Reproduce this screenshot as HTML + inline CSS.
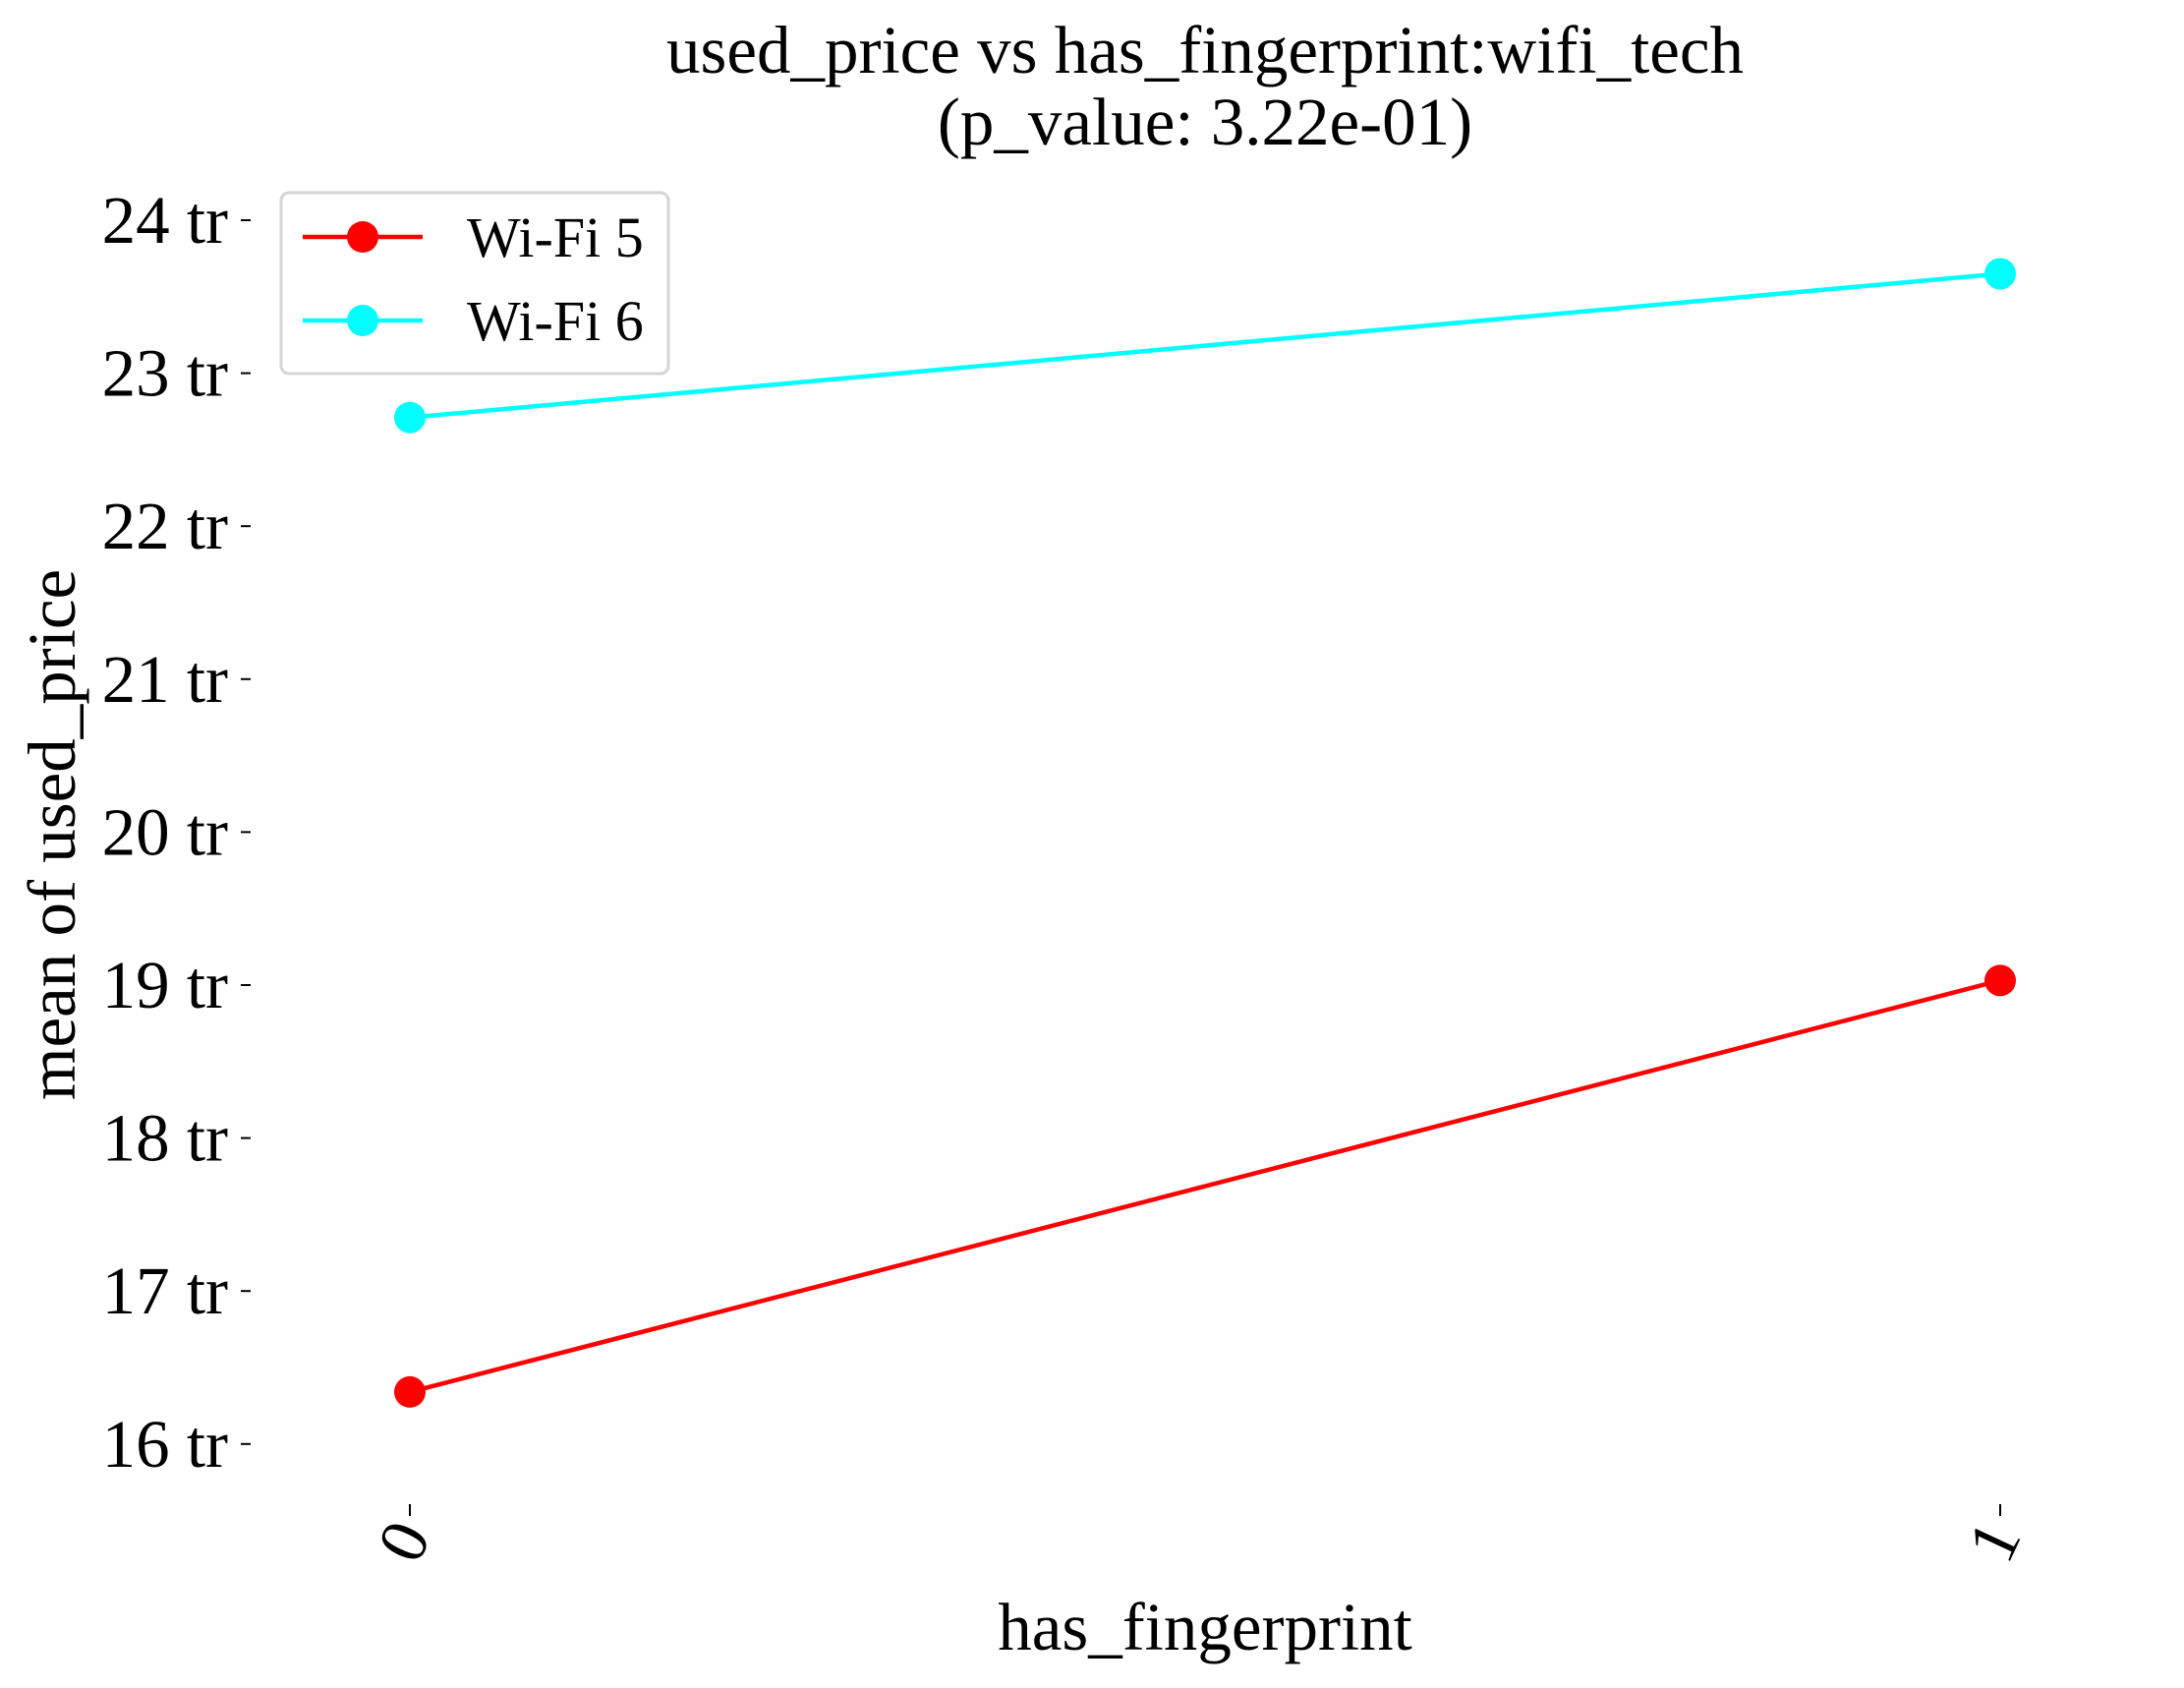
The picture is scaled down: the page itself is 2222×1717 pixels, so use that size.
<!DOCTYPE html>
<html><head><meta charset="utf-8"><style>
html,body{margin:0;padding:0;background:#fff;}
svg{display:block;font-family:"Liberation Serif",serif;}
</style></head><body>
<svg id="chart" width="2222" height="1717" viewBox="0 0 2222 1717">
<rect width="2222" height="1717" fill="#fff"/>
<text x="1226" y="74" font-size="69" text-anchor="middle">used_price vs has_fingerprint:wifi_tech</text>
<text x="1226" y="147" font-size="69" text-anchor="middle">(p_value: 3.22e-01)</text>
<text transform="translate(76,849) rotate(-90)" font-size="69" text-anchor="middle">mean of used_price</text>
<text x="1226" y="1678" font-size="69" text-anchor="middle">has_fingerprint</text>
<g id="yticks"></g><g id="xticks"></g><g id="series"></g>
<g>
<rect x="286" y="196" width="394" height="184" rx="8" fill="#fff" stroke="#d5d5d5" stroke-width="3"/>
<line x1="308" y1="241" x2="430" y2="241" stroke="#ff0000" stroke-width="4.5"/>
<circle cx="369" cy="241" r="16" fill="#ff0000"/>
<text x="475" y="261" font-size="58">Wi-Fi 5</text>
<line x1="308" y1="326" x2="430" y2="326" stroke="#00ffff" stroke-width="4.5"/>
<circle cx="369" cy="326" r="16" fill="#00ffff"/>
<text x="475" y="346" font-size="58">Wi-Fi 6</text>
</g>
</svg>
<script>
const categories = ["0", "1"];
const seriesNames = ["Wi-Fi 5", "Wi-Fi 6"];
const wifi5 = [16.34, 19.03];
const wifi6 = [22.71, 23.65];
const yTicks = [16, 17, 18, 19, 20, 21, 22, 23, 24];
const yTickLabels = ["16 tr","17 tr","18 tr","19 tr","20 tr","21 tr","22 tr","23 tr","24 tr"];
const NS = "http://www.w3.org/2000/svg";
function y(v){ return 224 + (24 - v) * 155.6; }
function x(i){ return 417 + i * (2035 - 417); }
function mk(tag, attrs, parent){ const e=document.createElementNS(NS,tag); for(const k in attrs) e.setAttribute(k,attrs[k]); parent.appendChild(e); return e; }
const yg=document.getElementById('yticks');
yTicks.forEach((v,i)=>{
  const t=mk('text',{x:232,y:y(v)+23,'font-size':69,'text-anchor':'end'},yg);
  t.textContent=yTickLabels[i];
  
  
  const l=mk('line',{x1:245,x2:255,y1:y(v),y2:y(v),stroke:'#000','stroke-width':2},yg);
  
  
});
const xg=document.getElementById('xticks');
categories.forEach((c,i)=>{
  const l=mk('line',{x1:x(i),x2:x(i),y1:1530,y2:1542,stroke:'#000','stroke-width':2},xg);
  
  
  const t=mk('text',{x:0,y:0,'font-size':69,'text-anchor':'end',transform:`translate(${x(i)+22},1562) rotate(-65)`},xg);
  t.textContent=c;
  
  
});
const sg=document.getElementById('series');
[[wifi5,'#ff0000','wifi5'],[wifi6,'#00ffff','wifi6']].forEach(([vals,col,nm])=>{
  const pts=vals.map((v,i)=>x(i)+','+y(v)).join(' ');
  const pl=mk('polyline',{points:pts,fill:'none',stroke:col,'stroke-width':4.5},sg);
  
  
  vals.forEach((v,i)=>{
    const c=mk('circle',{cx:x(i),cy:y(v),r:16,fill:col},sg);
    
    
  });
});
</script>
</body></html>
